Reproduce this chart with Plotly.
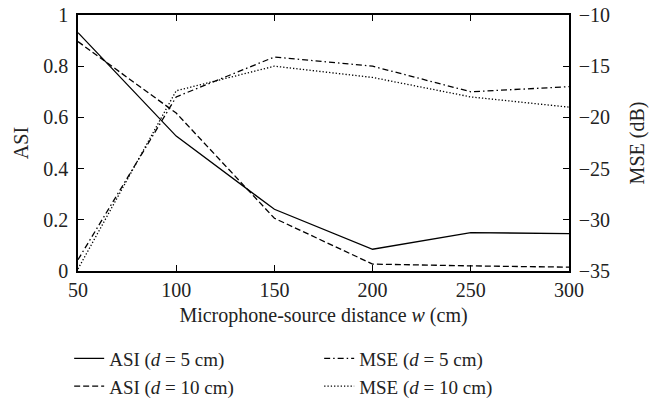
import plotly.graph_objects as go

# Microphone-source distance w (cm)
distance = [50, 100, 150, 200, 250, 300]

# Angular separation index
asi_d5 = [0.931, 0.527, 0.241, 0.085, 0.150, 0.146]
asi_d10 = [0.896, 0.617, 0.206, 0.027, 0.020, 0.015]

# Mean squared error (dB)
mse_d5 = [-33.9, -18.0, -14.1, -15.0, -17.5, -17.0]
mse_d10 = [-34.8, -17.4, -15.0, -16.1, -18.0, -19.0]

asi_ticks = [0, 0.2, 0.4, 0.6, 0.8, 1]
asi_ticktext = ["0", "0.2", "0.4", "0.6", "0.8", "1"]
mse_ticks = [-35, -30, -25, -20, -15, -10]
x_ticks = [50, 100, 150, 200, 250, 300]

FONT = "Liberation Serif"
FS = 20
LW = 1.3

fig = go.Figure()
fig.add_trace(go.Scatter(x=distance, y=asi_d5, mode="lines", name="ASI (<i>d</i> = 5 cm)",
                         line=dict(color="black", width=LW)))
fig.add_trace(go.Scatter(x=distance, y=mse_d5, mode="lines", name="MSE (<i>d</i> = 5 cm)",
                         yaxis="y2", line=dict(color="black", width=LW, dash="6px,3px,1.5px,3px")))
fig.add_trace(go.Scatter(x=distance, y=asi_d10, mode="lines", name="ASI (<i>d</i> = 10 cm)",
                         line=dict(color="black", width=LW, dash="6px,3px")))
fig.add_trace(go.Scatter(x=distance, y=mse_d10, mode="lines", name="MSE (<i>d</i> = 10 cm)",
                         yaxis="y2", line=dict(color="black", width=LW, dash="1.3px,2px")))

axis_common = dict(showgrid=False, zeroline=False, showline=True, linecolor="black",
                   linewidth=1.5, ticks="inside", ticklen=6, tickcolor="black", tickwidth=1.3,
                   tickfont=dict(family=FONT, size=FS, color="#222"))

fig.update_layout(
    width=666, height=400,
    margin=dict(l=78, r=97, t=15, b=129, autoexpand=False),
    paper_bgcolor="white", plot_bgcolor="white",
    font=dict(family=FONT, size=FS, color="#222"),
    xaxis=dict(range=[50, 300], tickvals=x_ticks, mirror="ticks",
               title=dict(text="Microphone-source distance <i>w</i> (cm)", standoff=8,
                          font=dict(family=FONT, size=FS)),
               **axis_common),
    yaxis=dict(range=[0, 1], tickvals=asi_ticks, ticktext=asi_ticktext, ticklabelstandoff=4,
               title=dict(text="ASI", standoff=9, font=dict(family=FONT, size=FS)),
               **axis_common),
    yaxis2=dict(range=[-35, -10], tickvals=mse_ticks, overlaying="y", side="right",
                ticklabelstandoff=4,
                title=dict(text="MSE (dB)", standoff=21, font=dict(family=FONT, size=FS)),
                **axis_common),
    legend=dict(orientation="h", x=-0.018, xanchor="left", y=-0.268, yanchor="top",
                entrywidth=205, entrywidthmode="pixels", tracegroupgap=0,
                font=dict(family=FONT, size=19, color="#222"),
                bgcolor="rgba(0,0,0,0)"),
    showlegend=True,
)

fig.write_html("out.html")
